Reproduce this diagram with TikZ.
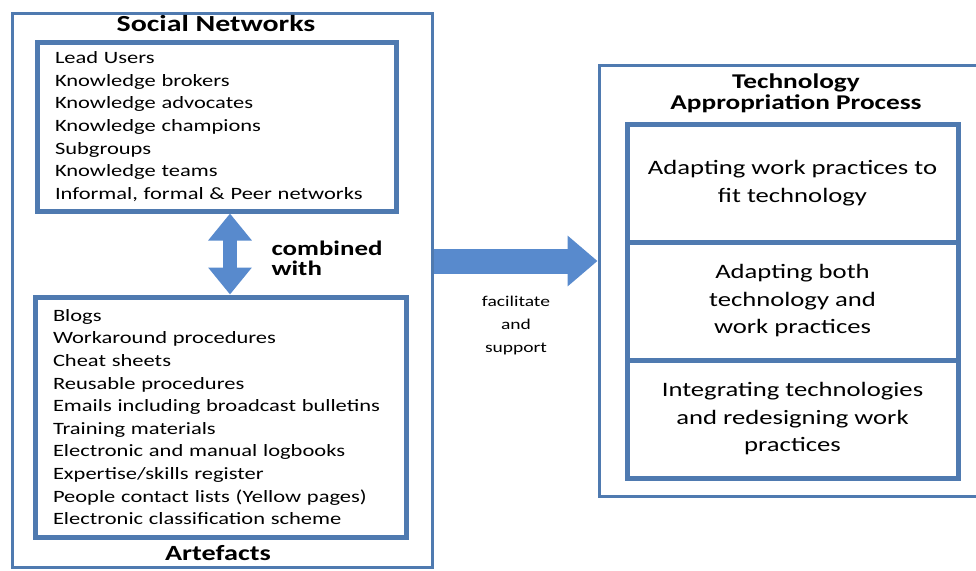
\documentclass[tikz,border=0pt]{standalone}
\usepackage{fontspec}
\setmainfont{Carlito}[FakeStretch=1.3]
\usetikzlibrary{arrows.meta,positioning}
\definecolor{frameblue}{RGB}{79,122,176}
\definecolor{arrowblue}{RGB}{88,138,205}

\begin{document}
\begin{tikzpicture}[
  x=1pt, y=-1pt,
  panel/.style={draw=frameblue, line width=3pt, inner sep=0pt},
  listbox/.style={draw=frameblue, line width=5pt, align=left, inner xsep=18pt, font=\fontsize{17.3}{22.6}\selectfont},
  cell/.style={draw=frameblue, line width=5pt, outer sep=0pt, minimum width=331pt, minimum height=118pt, align=center, font=\fontsize{20.5}{27.5}\selectfont},
  heading/.style={align=center, font=\bfseries\fontsize{21}{21}\selectfont},
  note/.style={align=center, font=\fontsize{15}{23}\selectfont},
  dblarrow/.style={arrowblue, line width=14pt, {Triangle[width=42pt,length=27pt]}-{Triangle[width=42pt,length=27pt]}},
  bigarrow/.style={arrowblue, line width=25pt, -{Triangle[width=49pt,length=30pt]}}
]
\useasboundingbox (0,0) rectangle (976,570);

% left panel
\node[panel, minimum width=420pt, minimum height=554pt] (social) at (222,290) {};
\node[heading, font=\bfseries\fontsize{23}{23}\selectfont] (sntitle) at (216,24) {Social Networks};
\node[listbox, text width=323pt, minimum height=169pt] (toplist) at (216.5,126.5) {Lead Users\\
  Knowledge brokers\\
  Knowledge advocates\\
  Knowledge champions\\
  Subgroups\\
  Knowledge teams\\
  Informal, formal \& Peer networks};
\node[listbox, text width=335pt, minimum height=240pt] (botlist) at (220.5,417) {Blogs\\
  Workaround procedures\\
  Cheat sheets\\
  Reusable procedures\\
  Emails including broadcast bulletins\\
  Training materials\\
  Electronic and manual logbooks\\
  Expertise/skills register\\
  People contact lists (Yellow pages)\\
  Electronic classification scheme};
\node[heading, font=\bfseries\fontsize{21.7}{21.7}\selectfont] (arttitle) at (218,553) {Artefacts};
\node[heading, align=left, anchor=west, font=\bfseries\fontsize{20.7}{20}\selectfont] (combined) at (268,258) {combined\\with};

% right panel
\node[panel, minimum width=379pt, minimum height=431pt] (tap) at (788.5,280.5) {};
\node[heading] (taptitle) at (796,93) {Technology\\Appropriation Process};
\node[cell] (fit) at (792.5,183) {Adapting work practices to\\fit technology};
\node[cell, below=0pt of fit] (both) {Adapting both\\technology and\\work practices};
\node[cell, below=0pt of both] (integrate) {Integrating technologies\\and redesigning work\\practices};

\node[note] (facil) at (516,325) {facilitate\\and\\support};

% arrows
\coordinate (mid) at (0,261);
\draw[dblarrow] ([xshift=13.5pt]toplist.south) -- ([xshift=9.5pt]botlist.north);
\draw[bigarrow] (social.east |- mid) -- (tap.west |- mid);
\end{tikzpicture}
\end{document}
